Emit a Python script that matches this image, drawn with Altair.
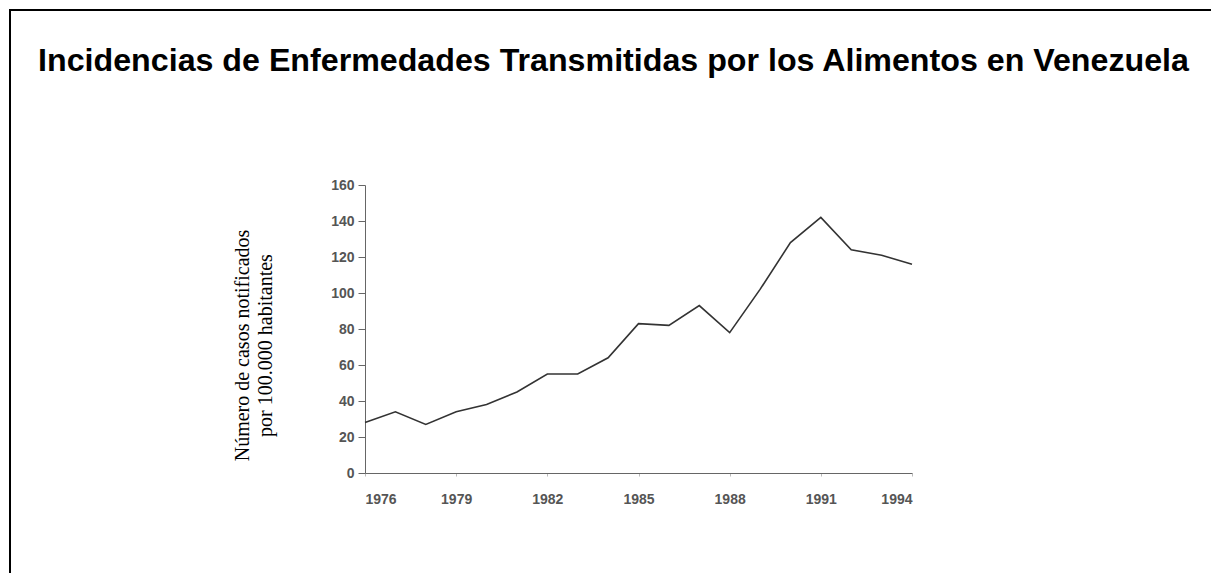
import altair as alt
import pandas as pd

title_text = "Incidencias de Enfermedades Transmitidas por los Alimentos en Venezuela"
years = list(range(1976, 1995))
values = [28, 34, 27, 34, 38, 45, 55, 55, 64, 83, 82, 93, 78, 102, 128, 142, 124, 121, 116]
x_ticks = [1976, 1979, 1982, 1985, 1988, 1991, 1994]
y_ticks = [0, 20, 40, 60, 80, 100, 120, 140, 160]

df = pd.DataFrame({"anio": years, "casos": values})

line = alt.Chart(df).mark_line(color="#333333", strokeWidth=1.6).encode(
    x=alt.X("anio:Q", scale=alt.Scale(domain=[1976, 1994], nice=False, zero=False),
            axis=alt.Axis(values=x_ticks, format="d", title=None, grid=False,
                          domainColor="#666666", tickColor="#bbbbbb", tickSize=3,
                          labelColor="#555555", labelFont="Liberation Sans",
                          labelFontSize=14, labelFontWeight="bold", labelPadding=16)),
    y=alt.Y("casos:Q", scale=alt.Scale(domain=[0, 160], nice=False),
            axis=alt.Axis(values=y_ticks, grid=False,
                          title=["Número de casos notificados", "por 100.000 habitantes"],
                          titleFont="Liberation Serif", titleFontSize=20, titleFontWeight="normal",
                          titleColor="#000000", titlePadding=55, titleLineHeight=23,
                          titleY=160,
                          domainColor="#666666", tickColor="#666666", tickSize=7,
                          labelColor="#555555", labelFont="Liberation Sans",
                          labelFontSize=14, labelFontWeight="bold", labelPadding=4)),
)

one = pd.DataFrame({"t": [title_text]})

border = alt.Chart(one).mark_rect(
    fill=None, stroke="#000000", strokeWidth=2
).encode(
    x=alt.value(-355), x2=alt.value(847), y=alt.value(-175), y2=alt.value(600)
)

title = alt.Chart(one).mark_text(
    font="Liberation Sans", fontSize=32.2, fontWeight="bold", color="#000000",
    align="center", baseline="middle"
).encode(
    text="t:N", x=alt.value(248.5), y=alt.value(-124)
)

chart = alt.layer(border, title, line).properties(
    width=547,
    height=288,
    autosize=alt.AutoSizeParams(type="none"),
    padding={"left": 357, "top": 177, "right": 299, "bottom": 100},
).configure_view(stroke=None)

chart.save("out.html", embed_options={"renderer": "svg", "actions": False})
